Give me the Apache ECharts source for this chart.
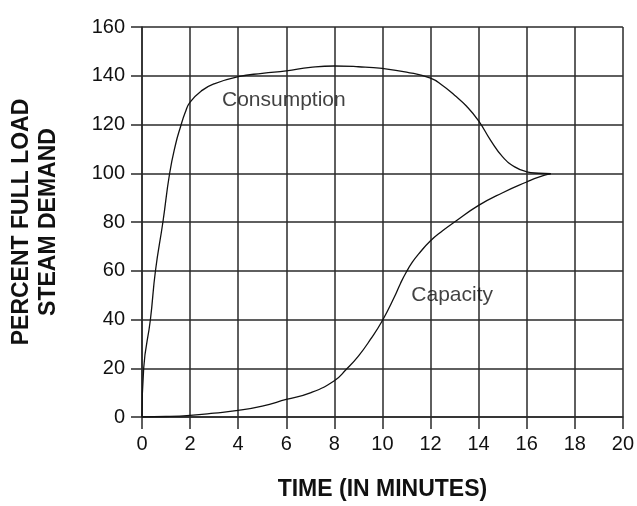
<!DOCTYPE html>
<html>
<head>
<meta charset="utf-8">
<script src="https://cdn.jsdelivr.net/npm/echarts@6/dist/echarts.min.js"></script>
<style>html,body{margin:0;padding:0;background:#fff;}#c{width:637px;height:506px;}</style>
</head>
<body>
<div id="c"></div>
<script>
// Time axis ticks (minutes) and value axis ticks (percent)
const xTicks = [0, 2, 4, 6, 8, 10, 12, 14, 16, 18, 20];
const yTicks = [0, 20, 40, 60, 80, 100, 120, 140, 160];

// Consumption curve
const consumptionTime = [0, 0.07, 0.35, 0.56, 0.87, 1.15, 1.4, 1.6, 1.8, 2, 2.5, 3, 4, 5, 6, 7, 8, 9, 10, 11, 12, 12.5, 13, 13.5, 14, 14.5, 15, 15.5, 16, 16.5, 17];
const consumptionValue = [0, 20, 40, 60, 80, 100, 112, 119, 125, 129.2, 134, 136.7, 139.6, 141, 142, 143.4, 144, 143.7, 143, 141.5, 139, 136, 132, 127.5, 121.5, 113.5, 106.7, 102.6, 100.6, 100, 99.8];

// Capacity curve
const capacityTime = [0, 1, 2, 3, 4, 5, 6, 7, 8, 8.5, 9, 9.5, 10, 10.5, 10.75, 11, 11.25, 11.5, 12, 12.5, 13, 14, 15, 16, 16.5, 17];
const capacityValue = [0, 0.2, 0.7, 1.6, 2.7, 4.5, 7.2, 9.9, 14.9, 19.6, 25, 31.8, 39.6, 49.3, 54.8, 59.6, 63.6, 66.8, 72.3, 76.4, 80, 86.8, 92, 96.4, 98.4, 99.8];

// Curve labels
const curveNames = ['Consumption', 'Capacity'];
const labelAnchors = [[5.9, 130.1], [12.9, 50.1]];

const FONT = "'Liberation Sans', Arial, sans-serif";
const GRID_COLOR = '#2a2a2a';

const pairs = (xs, ys) => xs.map((x, i) => [x, ys[i]]);

const chart = echarts.init(document.getElementById('c'), null, {renderer: 'canvas'});
chart.setOption({
  animation: false,
  backgroundColor: '#fff',
  grid: {left: 136, right: 13, top: 27, bottom: 83, containLabel: false},
  xAxis: {
    type: 'value', min: xTicks[0], max: xTicks[xTicks.length - 1], interval: xTicks[1] - xTicks[0],
    name: 'TIME (IN MINUTES)', nameLocation: 'middle', nameGap: 61,
    nameTextStyle: {fontFamily: FONT, fontWeight: 'bold', fontSize: 23, color: '#111'},
    axisLine: {show: true, onZero: false, lineStyle: {color: GRID_COLOR, width: 1.5}},
    axisTick: {show: true, length: 12, lineStyle: {color: GRID_COLOR, width: 1.5}},
    axisLabel: {fontFamily: FONT, fontSize: 20, color: '#111', margin: 17},
    splitLine: {show: true, lineStyle: {color: GRID_COLOR, width: 1.5}}
  },
  yAxis: {
    type: 'value', min: yTicks[0], max: yTicks[yTicks.length - 1], interval: yTicks[1] - yTicks[0],
    name: 'PERCENT FULL LOAD\nSTEAM DEMAND', nameLocation: 'middle', nameGap: 80,
    nameTextStyle: {fontFamily: FONT, fontWeight: 'bold', fontSize: 23, color: '#111', lineHeight: 27, align: 'center'},
    axisLine: {show: true, onZero: false, lineStyle: {color: GRID_COLOR, width: 1.5}},
    axisTick: {show: true, length: 11, lineStyle: {color: GRID_COLOR, width: 1.5}},
    axisLabel: {fontFamily: FONT, fontSize: 20, color: '#111', margin: 17},
    splitLine: {show: true, lineStyle: {color: GRID_COLOR, width: 1.5}}
  },
  series: [
    {
      type: 'line', name: curveNames[0], data: pairs(consumptionTime, consumptionValue),
      smooth: 0.5, showSymbol: false, symbol: 'none',
      lineStyle: {color: '#111', width: 1.3}
    },
    {
      type: 'line', name: curveNames[1], data: pairs(capacityTime, capacityValue),
      smooth: 0.5, showSymbol: false, symbol: 'none',
      lineStyle: {color: '#111', width: 1.3}
    },
    {
      type: 'scatter', symbolSize: 0, silent: true,
      data: curveNames.map((n, i) => ({value: labelAnchors[i], name: n})),
      label: {show: true, position: 'inside', formatter: p => p.name, fontFamily: FONT, fontSize: 21, color: '#111'}
    }
  ]
});
</script>
</body>
</html>
